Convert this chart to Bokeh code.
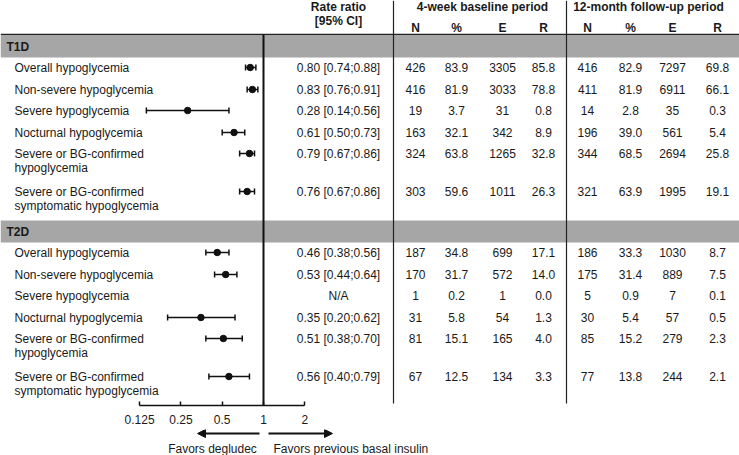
import math
from bokeh.plotting import figure
from bokeh.models import (Range1d, LogScale, LogAxis, FixedTicker, CustomJSTickFormatter,
                          ColumnDataSource, Whisker, TeeHead, Arrow, NormalHead)
from bokeh.layouts import column
from bokeh.core.properties import value
from bokeh.embed import file_html
from bokeh.resources import INLINE

# ------------------------------------------------------------------ data
groups = ["T1D", "T2D"]
outcomes = ["Overall hypoglycemia",
            "Non-severe hypoglycemia",
            "Severe hypoglycemia",
            "Nocturnal hypoglycemia",
            "Severe or BG-confirmed\nhypoglycemia",
            "Severe or BG-confirmed\nsymptomatic hypoglycemia"]

t1d_rr = [0.80, 0.83, 0.28, 0.61, 0.79, 0.76]
t1d_lo = [0.74, 0.76, 0.14, 0.50, 0.67, 0.67]
t1d_hi = [0.88, 0.91, 0.56, 0.73, 0.86, 0.86]
t2d_rr = [0.46, 0.53, None, 0.35, 0.51, 0.56]
t2d_lo = [0.38, 0.44, None, 0.20, 0.38, 0.40]
t2d_hi = [0.56, 0.64, None, 0.62, 0.70, 0.79]

# 4-week baseline period
t1d_base_n = [426, 416, 19, 163, 324, 303]
t1d_base_pct = [83.9, 81.9, 3.7, 32.1, 63.8, 59.6]
t1d_base_e = [3305, 3033, 31, 342, 1265, 1011]
t1d_base_r = [85.8, 78.8, 0.8, 8.9, 32.8, 26.3]
t2d_base_n = [187, 170, 1, 31, 81, 67]
t2d_base_pct = [34.8, 31.7, 0.2, 5.8, 15.1, 12.5]
t2d_base_e = [699, 572, 1, 54, 165, 134]
t2d_base_r = [17.1, 14.0, 0.0, 1.3, 4.0, 3.3]
# 12-month follow-up period
t1d_fu_n = [416, 411, 14, 196, 344, 321]
t1d_fu_pct = [82.9, 81.9, 2.8, 39.0, 68.5, 63.9]
t1d_fu_e = [7297, 6911, 35, 561, 2694, 1995]
t1d_fu_r = [69.8, 66.1, 0.3, 5.4, 25.8, 19.1]
t2d_fu_n = [186, 175, 5, 30, 85, 77]
t2d_fu_pct = [33.3, 31.4, 0.9, 5.4, 15.2, 13.8]
t2d_fu_e = [1030, 889, 7, 57, 279, 244]
t2d_fu_r = [8.7, 7.5, 0.1, 0.5, 2.3, 2.1]

ticks = [0.125, 0.25, 0.5, 1, 2]
tick_labels = ["0.125", "0.25", "0.5", "1", "2"]
null_ratio = 1.0
rr_header = ["Rate ratio", "[95% CI]"]
period_titles = ["4-week baseline period", "12-month follow-up period"]
sub_headers = ["N", "%", "E", "R"]
favors = ["Favors degludec", "Favors previous basal insulin"]
na_text = "N/A"

# ------------------------------------------------------------------ layout / style
FONT_NAME = "Liberation Sans"
FONT = value(FONT_NAME)
TXT = "#1a1a1a"
BAND = "#a6a6a6"
FS = "12px"
W_REF, H_TOP_REF = 739, 405
X_ONE, PX_PER_DOUBLING = 263, 41.3
X_LABEL, X_GROUP = 14, 6
X_RR_TEXT = 338
COL_X = [415, 456, 502, 543, 587, 630, 672, 717]
PERIOD_X = [482, 648]
DIVIDERS_X = [393, 566]
DIVIDER_BOTTOM = 403
HEADER_Y1, HEADER_Y2, SUB_Y = 6, 20, 27
RULE_Y = 34
BAND_CENTER = [46, 231]
BAND_H = 22
ROW_OFFSETS = [21, 43, 64, 86, 107, 145]
LINE_GAP = 14

FIG_W = 739
FRAME_A_H = 405
AXIS_PANEL = 24
FIG_B_TOP, FIG_B_BOTTOM = 429, 455

# ------------------------------------------------------------------ figure A
fa = figure(width=FIG_W, height=FRAME_A_H + AXIS_PANEL,
            x_range=Range1d(0, W_REF), y_range=Range1d(H_TOP_REF, 0),
            x_axis_location=None, y_axis_location=None,
            toolbar_location=None, output_backend="svg",
            min_border_left=0, min_border_right=0, min_border_top=0,
            min_border_bottom=AXIS_PANEL)
fa.outline_line_color = None
fa.xgrid.visible = False
fa.ygrid.visible = False
fa.background_fill_color = "white"
fa.border_fill_color = "white"
fa.extra_x_ranges = {"rr": Range1d(2 ** (-X_ONE / PX_PER_DOUBLING),
                                   2 ** ((W_REF - X_ONE) / PX_PER_DOUBLING))}
fa.extra_x_scales = {"rr": LogScale()}

# gray group bands
fa.rect(x=[W_REF / 2] * 2, y=BAND_CENTER, width=W_REF, height=BAND_H,
        fill_color=BAND, line_color=None)

# rules
fa.segment(x0=[0], y0=[RULE_Y], x1=[W_REF], y1=[RULE_Y], line_color="#222", line_width=1.5)
fa.segment(x0=DIVIDERS_X, y0=[0] * 2, x1=DIVIDERS_X, y1=[DIVIDER_BOTTOM] * 2,
           line_color="#222", line_width=1.2)
fa.segment(x0=[null_ratio], y0=[RULE_Y], x1=[null_ratio], y1=[H_TOP_REF],
           x_range_name="rr", line_color="#111", line_width=2)

def txt(fig, xs, ys, texts, align="center", bold=False, **kw):
    src = ColumnDataSource(dict(x=list(xs), y=list(ys), t=list(texts)))
    fig.text(x="x", y="y", text="t", source=src, text_font=FONT, text_font_size=FS,
             text_align=align, text_baseline="middle", text_color=TXT,
             text_font_style="bold" if bold else "normal", **kw)

# headers
txt(fa, [X_RR_TEXT] * 2, [HEADER_Y1, HEADER_Y2], rr_header, bold=True)
txt(fa, PERIOD_X, [HEADER_Y1] * 2, period_titles, bold=True)
txt(fa, COL_X, [SUB_Y] * 8, sub_headers * 2, bold=True)
txt(fa, [X_GROUP] * 2, BAND_CENTER, groups, align="left", bold=True)

group_data = [
    (t1d_rr, t1d_lo, t1d_hi,
     [t1d_base_n, t1d_base_pct, t1d_base_e, t1d_base_r, t1d_fu_n, t1d_fu_pct, t1d_fu_e, t1d_fu_r]),
    (t2d_rr, t2d_lo, t2d_hi,
     [t2d_base_n, t2d_base_pct, t2d_base_e, t2d_base_r, t2d_fu_n, t2d_fu_pct, t2d_fu_e, t2d_fu_r]),
]

lab_x, lab_y, lab_t = [], [], []
rr_y, rr_t = [], []
cell_x, cell_y, cell_t = [], [], []
fp = dict(y=[], rr=[], lo=[], hi=[])
for gi, (rr, lo, hi, cols) in enumerate(group_data):
    for i, name in enumerate(outcomes):
        y = BAND_CENTER[gi] + ROW_OFFSETS[i]
        for li, line in enumerate(name.split("\n")):
            lab_x.append(X_LABEL); lab_y.append(y + li * LINE_GAP); lab_t.append(line)
        rr_y.append(y)
        if rr[i] is None:
            rr_t.append(na_text)
        else:
            rr_t.append(f"{rr[i]:.2f} [{lo[i]:.2f};{hi[i]:.2f}]")
            fp["y"].append(y); fp["rr"].append(rr[i]); fp["lo"].append(lo[i]); fp["hi"].append(hi[i])
        for ci, col in enumerate(cols):
            v = col[i]
            cell_x.append(COL_X[ci]); cell_y.append(y)
            cell_t.append(f"{v:.1f}" if isinstance(v, float) else str(v))

txt(fa, lab_x, lab_y, lab_t, align="left")
txt(fa, [X_RR_TEXT] * len(rr_y), rr_y, rr_t)
txt(fa, cell_x, cell_y, cell_t)

fsrc = ColumnDataSource(fp)
fa.add_layout(Whisker(source=fsrc, base="y", lower="lo", upper="hi", dimension="width",
                      x_range_name="rr", line_color="#111", line_width=1.5,
                      lower_head=TeeHead(size=6, line_color="#111", line_width=1.5),
                      upper_head=TeeHead(size=6, line_color="#111", line_width=1.5)))
fa.scatter(x="rr", y="y", source=fsrc, x_range_name="rr", size=6.5,
           fill_color="#111", line_color="#111")

ax = LogAxis(x_range_name="rr", ticker=FixedTicker(ticks=ticks), bounds=(ticks[0], ticks[-1]),
             formatter=CustomJSTickFormatter(args=dict(tick_vals=ticks, tick_names=tick_labels),
                                             code="const k = tick_vals.indexOf(tick); return k >= 0 ? tick_names[k] : '';"),
             axis_line_color="#111", axis_line_width=1.5,
             major_tick_line_color="#111", major_tick_line_width=1.5,
             major_tick_in=4, major_tick_out=0, minor_tick_in=0, minor_tick_out=0,
             major_label_standoff=9, major_label_text_font=FONT_NAME,
             major_label_text_font_size=FS, major_label_text_color=TXT)
fa.add_layout(ax, "below")

# ------------------------------------------------------------------ figure B (favors arrows)
fb = figure(width=FIG_W, height=FIG_B_BOTTOM - FIG_B_TOP, x_range=fa.x_range,
            y_range=Range1d(FIG_B_BOTTOM, FIG_B_TOP),
            x_axis_location=None, y_axis_location=None,
            toolbar_location=None, output_backend="svg",
            min_border_left=0, min_border_right=0, min_border_top=0, min_border_bottom=0)
fb.outline_line_color = None
fb.xgrid.visible = False
fb.ygrid.visible = False
ARROW_Y, FAV_Y = 433, 448
fb.add_layout(Arrow(x_start=259, y_start=ARROW_Y, x_end=197, y_end=ARROW_Y, line_width=2,
                    line_color="#111",
                    end=NormalHead(size=8, fill_color="#111", line_color="#111")))
fb.add_layout(Arrow(x_start=268, y_start=ARROW_Y, x_end=332, y_end=ARROW_Y, line_width=2,
                    line_color="#111",
                    end=NormalHead(size=8, fill_color="#111", line_color="#111")))
txt(fb, [212], [FAV_Y], favors[:1])
txt(fb, [273], [FAV_Y], favors[1:], align="left")

layout = column(fa, fb, spacing=0)
open("out.html", "w").write(file_html(layout, INLINE))
